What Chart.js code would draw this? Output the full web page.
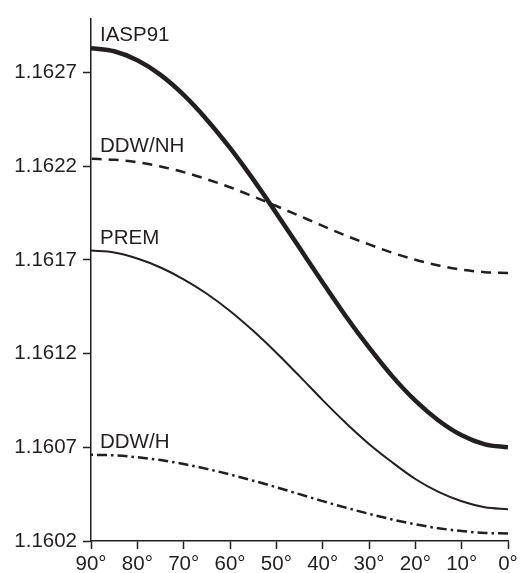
<!DOCTYPE html>
<html>
<head>
<meta charset="utf-8">
<script src="https://cdn.jsdelivr.net/npm/chart.js@4"></script>
<style>
  html, body { margin: 0; padding: 0; background: #fff; }
  #wrap { width: 522px; height: 573px; position: relative; }
</style>
</head>
<body>
<div id="wrap"><canvas id="canvas"></canvas></div>
<script>
/* Latitude in degrees, 0 to 90. */
const latitudes = [0, 5, 10, 15, 20, 25, 30, 35, 40, 45, 50, 55, 60, 65, 70, 75, 80, 85, 90]

/* Values, one per latitude. */
const iasp91 = [1.160700, 1.160716, 1.160764, 1.160843, 1.160949, 1.161080, 1.161233, 1.161400, 1.161580, 1.161765,
  1.161950, 1.162130, 1.162298, 1.162449, 1.162581, 1.162688, 1.162766, 1.162814, 1.162830]
const ddwNH = [1.161630, 1.161635, 1.161648, 1.161671, 1.161701, 1.161739, 1.161783, 1.161830, 1.161882, 1.161935,
  1.161988, 1.162039, 1.162088, 1.162131, 1.162169, 1.162199, 1.162222, 1.162235, 1.162240]
const prem = [1.160370, 1.160380, 1.160412, 1.160462, 1.160531, 1.160620, 1.160718, 1.160830, 1.160952, 1.161080,
  1.161205, 1.161322, 1.161428, 1.161520, 1.161597, 1.161660, 1.161708, 1.161740, 1.161750]
const ddwH = [1.160240, 1.160243, 1.160253, 1.160268, 1.160289, 1.160315, 1.160345, 1.160378, 1.160413, 1.160450,
  1.160487, 1.160522, 1.160555, 1.160585, 1.160611, 1.160632, 1.160647, 1.160657, 1.160660]

/* Tick labels. */
const yTicks = [1.1602, 1.1607, 1.1612, 1.1617, 1.1622, 1.1627]
const xTicks = [90, 80, 70, 60, 50, 40, 30, 20, 10, 0]

const ink = "#231f20"
const font = { family: "'Liberation Sans', Arial, sans-serif", size: 20.5 }

/* Turn a series into {x, y} points. */
const toPoints = values => latitudes.map((lat, i) => ({ x: lat, y: values[i] }))

/* Plugin that writes each model name just above its curve at 90°. */
const curveLabels = {
  id: "curveLabels",
  afterDatasetsDraw(chart) {
    const ctx = chart.ctx
    const xScale = chart.scales.x
    const yScale = chart.scales.y
    ctx.save()
    ctx.fillStyle = ink
    ctx.font = font.size + "px " + font.family
    ctx.textBaseline = "alphabetic"
    ctx.textAlign = "left"
    chart.data.datasets.forEach(ds => {
      const first = ds.data[ds.data.length - 1]
      ctx.fillText(ds.label, xScale.getPixelForValue(first.x) + 9, yScale.getPixelForValue(first.y) - 7)
    })
    ctx.restore()
  }
}

const ctx = document.getElementById("canvas").getContext("2d")
const chart = new Chart(ctx, {
  type: "line",
  data: {
    datasets: [{
      label: "IASP91",
      data: toPoints(iasp91),
      borderColor: ink,
      borderWidth: 4.5
    }, {
      label: "DDW/NH",
      data: toPoints(ddwNH),
      borderColor: ink,
      borderWidth: 2.5,
      borderDash: [10, 7]
    }, {
      label: "PREM",
      data: toPoints(prem),
      borderColor: ink,
      borderWidth: 2
    }, {
      label: "DDW/H",
      data: toPoints(ddwH),
      borderColor: ink,
      borderWidth: 2.5,
      borderDash: [10, 4, 2.5, 4]
    }]
  },
  options: {
    responsive: true,
    maintainAspectRatio: false,
    animation: false,
    layout: { padding: { left: 0, right: 14, top: 13, bottom: 0 } },
    elements: {
      point: { radius: 0 },
      line: { cubicInterpolationMode: "monotone", fill: false }
    },
    scales: {
      x: {
        type: "linear",
        reverse: true,
        min: 0,
        max: 90,
        afterBuildTicks: axis => { axis.ticks = xTicks.map(v => ({ value: v })) },
        afterFit: axis => { axis.height = 32 },
        ticks: {
          color: ink,
          font: font,
          padding: 3,
          maxRotation: 0,
          callback: v => v + "°"
        },
        grid: {
          drawOnChartArea: false,
          drawTicks: true,
          tickLength: 8,
          tickWidth: 1.5,
          tickColor: ink
        },
        border: { display: true, color: ink, width: 1.5 }
      },
      y: {
        min: 1.1602,
        max: 1.16299,
        afterBuildTicks: axis => { axis.ticks = yTicks.map(v => ({ value: v })) },
        afterFit: axis => { axis.width = 91 },
        ticks: {
          color: ink,
          font: font,
          padding: 6,
          callback: v => v.toFixed(4)
        },
        grid: {
          drawOnChartArea: false,
          drawTicks: true,
          tickLength: 8,
          tickWidth: 1.5,
          tickColor: ink
        },
        border: { display: true, color: ink, width: 1.5 }
      }
    },
    plugins: {
      legend: { display: false },
      tooltip: { enabled: false }
    }
  },
  plugins: [curveLabels]
})
</script>
</body>
</html>
